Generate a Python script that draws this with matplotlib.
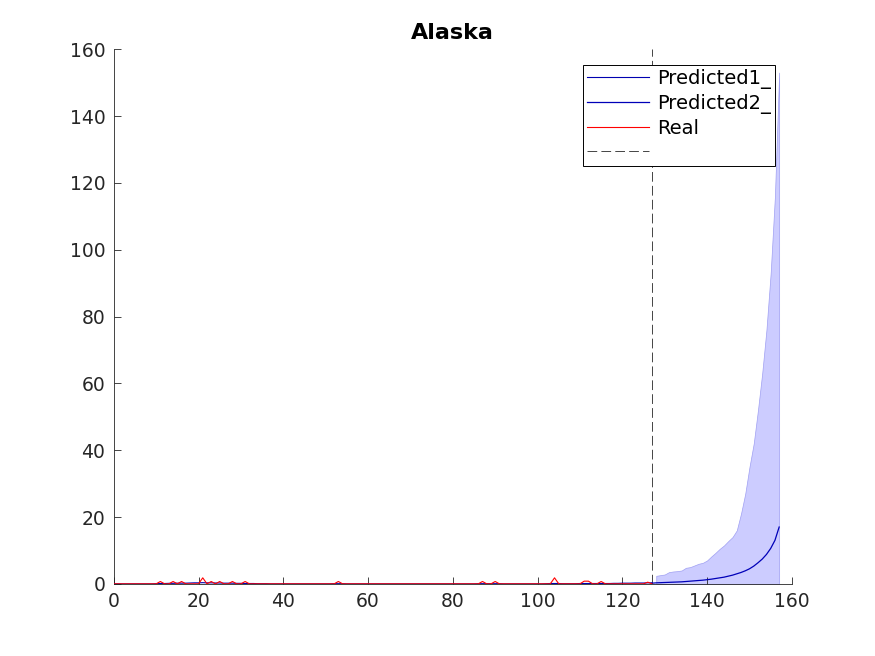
import numpy as np
import matplotlib.pyplot as plt

plt.rcParams['font.family'] = ['DejaVu Sans']
plt.rcParams['lines.scale_dashes'] = False

# observed series, days 0..127
days_real = np.arange(0, 128)
real = [
    0, 0, 0, 0, 0, 0, 0, 0, 0, 0, 0, 0.7, 0, 0, 0.7, 0,
    0.7, 0, 0, 0, 0, 1.8, 0, 0.7, 0, 0.7, 0, 0, 0.7, 0, 0, 0.7,
    0, 0, 0, 0, 0, 0, 0, 0, 0, 0, 0, 0, 0, 0, 0, 0,
    0, 0, 0, 0, 0, 0.7, 0, 0, 0, 0, 0, 0, 0, 0, 0, 0,
    0, 0, 0, 0, 0, 0, 0, 0, 0, 0, 0, 0, 0, 0, 0, 0,
    0, 0, 0, 0, 0, 0, 0, 0.7, 0, 0, 0.7, 0, 0, 0, 0, 0,
    0, 0, 0, 0, 0, 0, 0, 0, 1.8, 0, 0, 0, 0, 0, 0, 0.8,
    0.8, 0, 0, 0.7, 0, 0, 0, 0, 0, 0, 0, 0, 0, 0, 0.5, 0,
]

# model fit over the training window
fit = [
    0, 0, 0, 0, 0, 0, 0, 0, 0, 0, 0.05, 0.1, 0.1, 0.15, 0.15, 0.2,
    0.2, 0.2, 0.25, 0.3, 0.3, 0.35, 0.3, 0.3, 0.25, 0.25, 0.2, 0.2, 0.2, 0.15, 0.15, 0.1,
    0.1, 0.1, 0.05, 0.05, 0.05, 0, 0, 0, 0, 0, 0, 0, 0, 0, 0, 0,
    0, 0, 0, 0, 0.05, 0.05, 0.05, 0, 0, 0, 0, 0, 0, 0, 0, 0,
    0, 0, 0, 0, 0, 0, 0, 0, 0, 0, 0, 0, 0, 0, 0, 0,
    0, 0, 0, 0, 0, 0, 0.05, 0.05, 0.05, 0.05, 0.05, 0.05, 0, 0, 0, 0,
    0, 0, 0, 0, 0, 0, 0.05, 0.1, 0.1, 0.1, 0.05, 0.05, 0.05, 0.05, 0.1, 0.1,
    0.1, 0.1, 0.1, 0.1, 0.1, 0.1, 0.15, 0.15, 0.2, 0.2, 0.2, 0.25, 0.25, 0.25, 0.3, 0.3,
]

# forecast, days 127..157
days_pred = np.arange(127, 158)
pred = [0.2, 0.3, 0.35, 0.4, 0.45, 0.5, 0.55, 0.6, 0.7, 0.8, 0.9, 1.0, 1.1, 1.25,
        1.4, 1.6, 1.8, 2.0, 2.3, 2.6, 3.0, 3.4, 3.9, 4.5, 5.3, 6.3, 7.4, 8.8,
        10.6, 13.0, 17.0]

# uncertainty band, days 128..157
days_band = np.arange(128, 158)
band_low = [0] * 30
band_high = [2.4, 2.6, 2.8, 3.5, 3.7, 3.8, 4.0, 4.8, 5.0, 5.5, 6.0, 6.3, 7.0, 8.2,
             9.3, 10.5, 11.5, 12.8, 14.0, 16.0, 21.0, 27.0, 35.0, 42.0, 52.0, 63.0,
             76.0, 93.0, 116.0, 153.0]

split_day = 127

fig = plt.figure(figsize=(8.75, 6.56), dpi=100)
ax = fig.add_axes([0.13, 0.11, 0.775, 0.815])

ax.fill_between(days_band, band_low, band_high, facecolor='#ccccff',
                edgecolor='#9f9ff2', linewidth=0.5, zorder=1)
ax.plot(days_real, fit, color='#0000b0', linewidth=0.8, label='Predicted1_', zorder=3)
ax.plot(days_pred, pred, color='#0000b8', linewidth=0.9, label='Predicted2_', zorder=3)
ax.plot(days_real, real, color='red', linewidth=0.8, label='Real', zorder=4)
ax.axvline(split_day, color='#262626', linewidth=0.6, dashes=(7, 3), label=' ', zorder=2)

ax.set_xlim(0, 160)
ax.set_ylim(0, 160)
ax.set_xticks(np.arange(0, 161, 20))
ax.set_yticks(np.arange(0, 161, 20))

for side in ['top', 'right']:
    ax.spines[side].set_visible(False)
for side in ['left', 'bottom']:
    ax.spines[side].set_color('#262626')
    ax.spines[side].set_linewidth(0.6)
ax.tick_params(direction='in', length=5, width=0.6, colors='#262626',
               labelsize=13.5, pad=6)

ax.set_title('Alaska', fontsize=16, fontweight='bold', pad=7)

leg = ax.legend(loc='upper right', bbox_to_anchor=(0.975, 0.970),
                borderaxespad=0, fancybox=False, fontsize=14,
                handlelength=3.2, handletextpad=0.4, labelspacing=0.26,
                borderpad=0.2, framealpha=1)
leg.get_frame().set_edgecolor('black')
leg.get_frame().set_linewidth(0.7)

plt.savefig('out.png', dpi=100)
